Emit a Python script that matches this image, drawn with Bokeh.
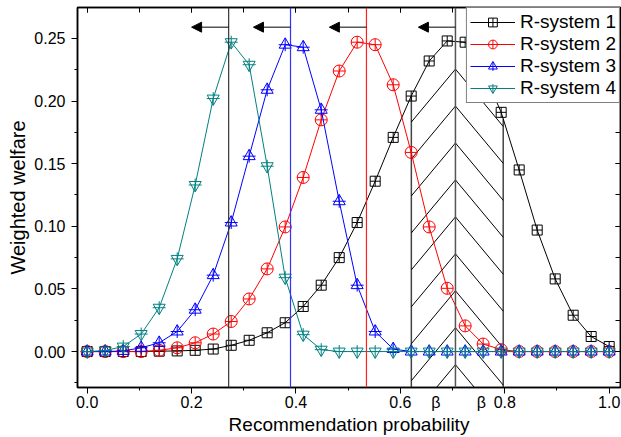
import numpy as np
from bokeh.plotting import figure
from bokeh.models import (Range1d, LinearAxis, SingleIntervalTicker, FixedTicker, Span, Arrow,
                          NormalHead, Legend, LegendItem, NumeralTickFormatter,
                          CustomJSTickFormatter)
from bokeh.embed import file_html
from bokeh.resources import INLINE

# recommendation probability grid (30 points)
prob = [0.0, 0.0345, 0.069, 0.1034, 0.1379, 0.1724, 0.2069, 0.2414, 0.2759, 0.3103,
        0.3448, 0.3793, 0.4138, 0.4483, 0.4828, 0.5172, 0.5517, 0.5862, 0.6207, 0.6552,
        0.6897, 0.7241, 0.7586, 0.7931, 0.8276, 0.8621, 0.8966, 0.931, 0.9655, 1.0]

# weighted welfare of each recommender system
rs1 = [0, 0, 0, 0, 0.0003, 0.0005, 0.001, 0.002, 0.005, 0.009,
       0.015, 0.023, 0.036, 0.053, 0.075, 0.103, 0.136, 0.171, 0.204, 0.232,
       0.248, 0.247, 0.224, 0.191, 0.145, 0.097, 0.058, 0.029, 0.012, 0.004]
rs2 = [0, 0, 0, 0, 0.001, 0.003, 0.007, 0.014, 0.024, 0.042,
       0.066, 0.0995, 0.139, 0.185, 0.224, 0.247, 0.245, 0.213, 0.159, 0.0995,
       0.0505, 0.0205, 0.006, 0.0015, 0, 0, 0, 0, 0, 0]
rs3 = [0, 0, 0.0005, 0.003, 0.007, 0.016, 0.0334, 0.061, 0.103, 0.156,
       0.209, 0.245, 0.243, 0.193, 0.12, 0.053, 0.016, 0.002, 0, 0,
       0, 0, 0, 0, 0, 0, 0, 0, 0, 0]
rs4 = [0, 0.0008, 0.004, 0.014, 0.035, 0.074, 0.133, 0.202, 0.247, 0.229,
       0.148, 0.059, 0.0135, 0.0015, 0, 0, 0, 0, 0, 0,
       0, 0, 0, 0, 0, 0, 0, 0, 0, 0]

series_names = ["R-system 1", "R-system 2", "R-system 3", "R-system 4"]
series_colors = ["#000000", "#ff0000", "#0000ff", "#008080"]

# x-axis labels
x_ticks = [0.0, 0.2, 0.4, 0.6, 0.8, 1.0]
beta_label_x = [0.668, 0.755]
beta_text = "β"

# optimal thresholds of systems 4, 3, 2 and the beta interval around system 1's optimum
thresholds = [0.271, 0.3895, 0.535]
threshold_colors = ["#333333", "#3333ff", "#ff2020"]
beta_lo, beta_mid, beta_hi = 0.621, 0.7055, 0.797

FONT = "Liberation Sans"
X0, X1 = -0.0186, 1.0217
Y0, Y1 = -0.0287, 0.2747

p = figure(width=621, height=437, output_backend="svg", toolbar_location=None,
           x_range=Range1d(X0, X1), y_range=Range1d(Y0, Y1),
           min_border_left=77, min_border_right=1, min_border_top=7, min_border_bottom=49,
           x_axis_location=None, y_axis_label="Weighted welfare")
p.grid.visible = False
p.outline_line_color = "black"
p.outline_line_width = 1.5
p.background_fill_color = "white"
p.border_fill_color = "white"

blank = CustomJSTickFormatter(code="return ''")

# left axis
ya = p.yaxis[0]
ya.ticker = SingleIntervalTicker(interval=0.05, num_minor_ticks=2)
ya.formatter = NumeralTickFormatter(format="0.00")
ya.axis_line_width = 1.5
ya.major_tick_out, ya.major_tick_in = 6, 0
ya.minor_tick_out, ya.minor_tick_in = 3, 0
ya.major_label_text_font = FONT
ya.major_label_text_font_size = "16px"
ya.major_label_text_color = "black"
ya.major_label_standoff = 6
ya.axis_label_text_font = FONT
ya.axis_label_text_font_size = "20px"
ya.axis_label_text_font_style = "normal"
ya.axis_label_text_color = "black"
ya.axis_label_standoff = 2

# bottom: a tick-only axis next to the frame, then the labelled axis beneath it
x_tick_axis = LinearAxis(ticker=SingleIntervalTicker(interval=0.2, num_minor_ticks=2),
                         formatter=blank, major_label_text_font_size="0px",
                         major_label_standoff=0, axis_line_width=1.5,
                         major_tick_out=6, major_tick_in=0, minor_tick_out=3, minor_tick_in=0)
x_label_axis = LinearAxis(ticker=FixedTicker(ticks=x_ticks + beta_label_x, minor_ticks=[]),
                          formatter=NumeralTickFormatter(format="0.0"),
                          major_label_overrides={b: beta_text for b in beta_label_x},
                          axis_line_color=None, major_tick_out=0, major_tick_in=0,
                          minor_tick_out=0, minor_tick_in=0, major_label_standoff=0,
                          major_label_text_font=FONT, major_label_text_font_size="16px",
                          major_label_text_color="black",
                          axis_label="Recommendation probability", axis_label_standoff=0,
                          axis_label_text_font=FONT, axis_label_text_font_size="19px",
                          axis_label_text_font_style="normal", axis_label_text_color="black")
p.add_layout(x_tick_axis, "below")
p.add_layout(x_label_axis, "below")

# mirrored axes with inward ticks on top and right
for loc, interval in (("above", 0.2), ("right", 0.05)):
    ax = LinearAxis(ticker=SingleIntervalTicker(interval=interval, num_minor_ticks=2),
                    formatter=blank, major_label_text_font_size="0px", major_label_standoff=0,
                    major_tick_in=5, major_tick_out=0, minor_tick_in=5, minor_tick_out=0,
                    axis_line_width=1.5)
    p.add_layout(ax, loc)

# threshold lines
for loc, col in zip(thresholds, threshold_colors):
    p.add_layout(Span(location=loc, dimension="height", line_color=col, line_width=1.2))
p.add_layout(Span(location=beta_mid, dimension="height", line_color="#555555", line_width=1.5))

# beta interval boundaries rise up to the R-system 1 curve
tops = np.interp([beta_lo, beta_hi], prob, rs1)
p.segment(x0=[beta_lo, beta_hi], y0=[Y0, Y0], x1=[beta_lo, beta_hi], y1=tops,
          line_color="#444444", line_width=1.5)

# chevron hatching inside the beta interval
apex_step = 0.0295
apex_y = -0.0105 + apex_step * np.arange(9)
slope = 0.5
hx0, hy0, hx1, hy1 = [], [], [], []
for yap in apex_y:
    for xe in (beta_lo, beta_hi):
        hx0.append(beta_mid)
        hy0.append(yap)
        hx1.append(xe)
        hy1.append(yap - slope * abs(beta_mid - xe))
p.segment(x0=hx0, y0=hy0, x1=hx1, y1=hy1, line_color="black", line_width=1)

# leftward arrows at the top of each threshold
arrow_y = 0.259
arrow_len = 0.071
for xs in thresholds + [beta_mid]:
    p.add_layout(Arrow(x_start=xs, y_start=arrow_y, x_end=xs - arrow_len, y_end=arrow_y,
                       line_color="black", line_width=1,
                       end=NormalHead(size=10, fill_color="black", line_color="black",
                                      line_width=1)))

# series
items = []
all_series = [rs1, rs2, rs3, rs4]
for k, (name, col, vals) in enumerate(zip(series_names, series_colors, all_series)):
    rends = [p.line(prob, vals, line_color=col, line_width=1)]
    if k == 0:
        rends.append(p.scatter(prob, vals, marker="square_cross", size=10,
                               line_color=col, fill_color=None, line_width=1))
    elif k == 1:
        rends.append(p.scatter(prob, vals, marker="circle_cross", size=12,
                               line_color=col, fill_color=None, line_width=1))
    else:
        tri = "triangle" if k == 2 else "inverted_triangle"
        rends.append(p.scatter(prob, vals, marker=tri, size=12,
                               line_color=col, fill_color=None, line_width=1))
        rends.append(p.scatter(prob, vals, marker="cross", size=13,
                               line_color=col, fill_color=None, line_width=1))
    items.append(LegendItem(label=name, renderers=rends))

legend = Legend(items=items, location="top_right", margin=0, padding=3, spacing=0,
                border_line_color="black", border_line_width=1,
                background_fill_color="white", background_fill_alpha=1,
                label_text_font=FONT, label_text_font_size="19px",
                label_text_color="black", label_standoff=5,
                glyph_width=45, glyph_height=22, label_height=22)
p.add_layout(legend)

open("out.html", "w").write(file_html(p, INLINE))
